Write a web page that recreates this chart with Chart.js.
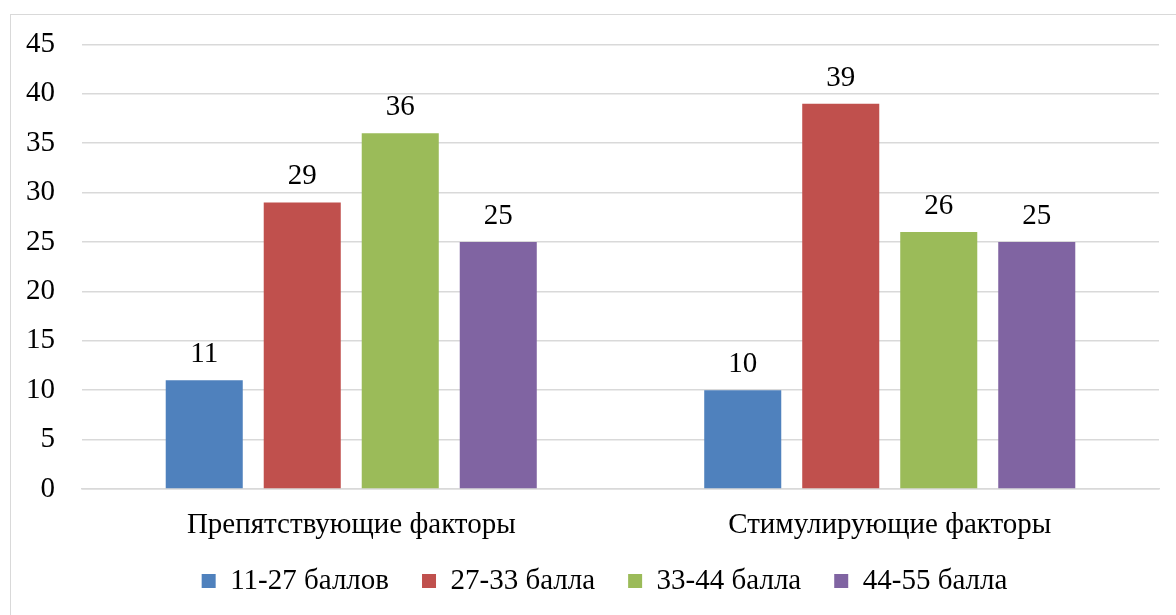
<!DOCTYPE html>
<html>
<head>
<meta charset="utf-8">
<script src="https://cdn.jsdelivr.net/npm/chart.js@4.4.0/dist/chart.umd.min.js"></script>
<style>
  html, body { margin: 0; padding: 0; background: #fff; overflow: hidden; }
  #wrap { position: relative; width: 1176px; height: 615px; }
  #frame { position: absolute; left: 10px; top: 14px; width: 1300px; height: 800px; border: 1.5px solid #d9d9d9; box-sizing: border-box; }
  canvas { position: absolute; left: 0; top: 0; }
</style>
</head>
<body>
<div id="wrap">
  <div id="frame"></div>
  <canvas id="chart" width="1176" height="615"></canvas>
</div>
<script>
const Factors = ['Препятствующие факторы', 'Стимулирующие факторы']
const Groups = ['11-27 баллов', '27-33 балла', '33-44 балла', '44-55 балла']
const Points11to27 = [11, 10]
const Points27to33 = [29, 39]
const Points33to44 = [36, 26]
const Points44to55 = [25, 25]
const Colors = ['#4f81bd', '#c0504d', '#9bbb59', '#8064a2']

const serif = '"Liberation Serif", "Times New Roman", serif'
const fontSize = 29

// prints the value over each bar
const barValues = {
    id: 'barValues',
    afterDatasetsDraw(chart) {
        const ctx = chart.ctx
        ctx.save()
        ctx.font = fontSize + 'px ' + serif
        ctx.fillStyle = '#000'
        ctx.textAlign = 'center'
        ctx.textBaseline = 'alphabetic'
        chart.data.datasets.forEach((ds, i) => {
            chart.getDatasetMeta(i).data.forEach((bar, j) => {
                ctx.fillText(ds.data[j], bar.x, bar.y - 18)
            })
        })
        ctx.restore()
    }
}

const ctx = document.getElementById('chart').getContext('2d')
const series = [Points11to27, Points27to33, Points33to44, Points44to55]

const myChart = new Chart(ctx, {
    type: 'bar',
    data: {
        labels: Factors,
        datasets: series.map((d, i) => ({
            label: Groups[i],
            data: d,
            backgroundColor: Colors[i],
            categoryPercentage: 0.728,
            barPercentage: 0.786,
        }))
    },
    options: {
        responsive: false,
        animation: false,
        layout: {
            // right side runs past the canvas so the legend sits a bit right, like the original
            padding: { left: 10, right: -23, top: 43, bottom: 9.5 }
        },
        scales: {
            y: {
                min: 0,
                max: 45,
                ticks: {
                    stepSize: 5,
                    padding: 27,
                    color: '#000',
                    font: { family: serif, size: fontSize },
                },
                grid: {
                    color: '#d9d9d9',
                    lineWidth: 1.5,
                    drawTicks: false,
                },
                border: { display: false },
                afterFit(scale) { scale.width = 72 },
            },
            // empty spacer on the right
            y2: {
                position: 'right',
                grid: { display: false },
                ticks: { display: false },
                border: { display: false },
                afterFit(scale) { scale.width = 40 },
            },
            x: {
                ticks: {
                    mirror: true,
                    padding: -54,
                    color: '#000',
                    font: { family: serif, size: fontSize },
                },
                grid: { display: false, drawTicks: false },
                border: { color: '#d9d9d9', width: 1.5 },
                afterFit(scale) { scale.height = 44.5 },
            },
        },
        plugins: {
            tooltip: { enabled: false },
            legend: {
                position: 'bottom',
                labels: {
                    color: '#000',
                    font: { family: serif, size: fontSize },
                    boxWidth: 14,
                    boxHeight: 14,
                    padding: 33,
                }
            },
        }
    },
    plugins: [barValues]
});
</script>
</body>
</html>
